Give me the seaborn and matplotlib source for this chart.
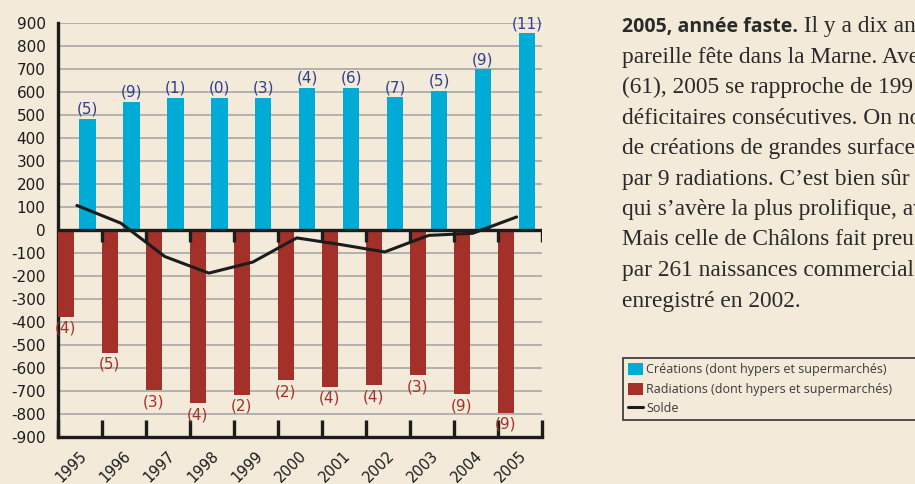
import numpy as np
import pandas as pd
import matplotlib
matplotlib.use("Agg")
import matplotlib.pyplot as plt
import seaborn as sns

# values
years = [1995, 1996, 1997, 1998, 1999, 2000, 2001, 2002, 2003, 2004, 2005]
creations = [483, 556, 573, 573, 573, 617, 617, 576, 604, 697, 854]
radiations = [-377, -533, -696, -754, -716, -652, -681, -674, -630, -713, -794]
solde = [106, 29, -116, -188, -140, -35, -64, -96, -24, -15, 56]
creations_gs = ["(5)", "(9)", "(1)", "(0)", "(3)", "(4)", "(6)", "(7)", "(5)", "(9)", "(11)"]
radiations_gs = ["(4)", "(5)", "(3)", "(4)", "(2)", "(2)", "(4)", "(4)", "(3)", "(9)", "(9)"]
y_ticks = list(range(-900, 1000, 100))

legend_labels = ["Créations (dont hypers et supermarchés)",
                 "Radiations (dont hypers et supermarchés)",
                 "Solde"]

body_lines = [
    "pareille fête dans la Marne. Ave",
    "(61), 2005 se rapproche de 199",
    "déficitaires consécutives. On no",
    "de créations de grandes surface",
    "par 9 radiations. C’est bien sûr",
    "qui s’avère la plus prolifique, av",
    "Mais celle de Châlons fait preu",
    "par 261 naissances commercial",
    "enregistré en 2002.",
]

BG = "#f3ead9"
BLUE = "#00abd6"
RED = "#a3312a"
NAVY = "#2f3f8f"
INK = "#1c1c1c"

sns.set_theme(style="white")
plt.rcParams["font.family"] = ["DejaVu Sans"]

fig = plt.figure(figsize=(9.15, 4.84), dpi=100, facecolor=BG)
ax = fig.add_axes([58 / 915, 47 / 484, 483.7 / 915, 414.3 / 484])
ax.set_facecolor(BG)

df = pd.DataFrame({"year": years, "creations": creations,
                   "radiations": radiations, "solde": solde})
x = df["year"].astype(float)

sns.barplot(x=x + 0.665, y=df["creations"], native_scale=True, orient="x",
            width=0.38, color=BLUE, saturation=1, errorbar=None,
            label=legend_labels[0], ax=ax, zorder=3, linewidth=0)
sns.barplot(x=x + 0.18, y=df["radiations"], native_scale=True, orient="x",
            width=0.365, color=RED, saturation=1, errorbar=None,
            label=legend_labels[1], ax=ax, zorder=3, linewidth=0)
sns.lineplot(x=x + 0.43, y=df["solde"], color=INK, lw=2.2,
             label=legend_labels[2], ax=ax, zorder=5)
if ax.get_legend() is not None:
    ax.get_legend().remove()

# group labels
for xi, v, s in zip(x + 0.665, creations, creations_gs):
    ax.annotate(s, (xi, v), xytext=(0, 1.5), textcoords="offset points",
                ha="center", va="bottom", color=NAVY, fontsize=11,
                annotation_clip=False)
for xi, v, s in zip(x + 0.18, radiations, radiations_gs):
    ax.annotate(s, (xi, v), xytext=(0, -3), textcoords="offset points",
                ha="center", va="top", color=RED, fontsize=11,
                annotation_clip=False)

# axes
ax.set_xlim(1995, 2006)
ax.set_ylim(-900, 900)
ax.set_yticks(y_ticks)
ax.set_yticklabels([str(t) for t in y_ticks], color=INK, fontsize=11)
ax.yaxis.grid(True, color="#a7a7a7", lw=1.2)
ax.xaxis.grid(False)
ax.set_axisbelow(True)
ax.tick_params(axis="y", length=0, pad=9)

ax.set_xticks(list(range(1995, 2007)))
ax.set_xticklabels([])
ax.set_xticks([y + 0.48 for y in years], minor=True)
ax.set_xticklabels([str(y) for y in years], minor=True, rotation=45,
                   ha="right", va="top", rotation_mode="anchor",
                   fontsize=10.5, color=INK)
ax.tick_params(axis="x", which="major", bottom=True, direction="in",
               length=12, width=2.4, color=INK)
ax.tick_params(axis="x", which="minor", bottom=True, length=0, pad=8)
ax.set_xlabel("")
ax.set_ylabel("")

for side in ["top", "right"]:
    ax.spines[side].set_visible(False)
for side in ["left", "bottom"]:
    ax.spines[side].set_color(INK)
    ax.spines[side].set_linewidth(2.4)

ax.axhline(0, color=INK, lw=2.4, zorder=4)
ax.vlines(list(range(1996, 2007)), -52, 0, color=INK, lw=2.4, zorder=4)

# text block on the right
tx = 622 / 915
base = 32
step = 30.5
head = fig.text(tx, 1 - base / 484, "2005, année faste.", family="Open Sans",
                fontweight="bold", fontsize=14, color="#2a2a2a", va="baseline")
ax.annotate(" Il y a dix an", xy=(1, 1 - base / 484),
            xycoords=(head, "figure fraction"), va="baseline", ha="left",
            family="Liberation Serif", fontsize=16.8, color="#2a2a2a",
            annotation_clip=False)
for i, line in enumerate(body_lines):
    fig.text(tx, 1 - (base + step * (i + 1)) / 484, line,
             family="Liberation Serif", fontsize=16.8, color="#2a2a2a",
             va="baseline")

# legend
handles, labels = ax.get_legend_handles_labels()
order = [labels.index(l) for l in legend_labels]
leg = fig.legend([handles[i] for i in order], legend_labels,
                 loc="upper left", bbox_to_anchor=(622.7 / 915, 0.126, 0.5, 0.134),
                 mode="expand", borderaxespad=0, frameon=True, fancybox=False,
                 edgecolor="#333333", facecolor=BG, framealpha=1,
                 prop={"family": "Open Sans", "size": 9},
                 handlelength=1.2, handleheight=1.1, handletextpad=0.3,
                 labelspacing=0.5, borderpad=0.4)
leg.get_frame().set_linewidth(1.2)
for t in leg.get_texts():
    t.set_color("#3a3a3a")

fig.savefig("out.png", dpi=100, facecolor=BG)
